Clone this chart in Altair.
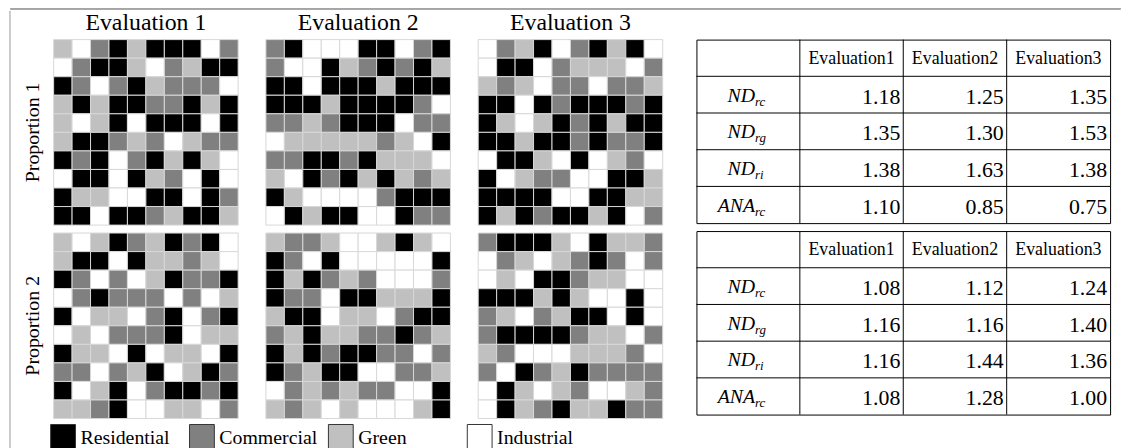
import altair as alt
import pandas as pd

FONT = "Liberation Serif"

# ---------------- data ----------------
categories = ["Residential", "Commercial", "Green", "Industrial"]
cat_colors = ["#000000", "#808080", "#c0c0c0", "#ffffff"]
code_names = {"R": "Residential", "C": "Commercial", "G": "Green", "I": "Industrial"}

proportions = ["Proportion 1", "Proportion 2"]
evaluations = ["Evaluation 1", "Evaluation 2", "Evaluation 3"]

grid_p1_e1 = ["GICRGRRRIC", "ICRRGICGRR", "RCICRGCCCI", "GRGRRCCRGR", "GIGRIRRRIR",
              "GRRCGCIGCC", "RCRICRGRGI", "IRRIRGCIRI", "RGGIIRRIRC", "RRIRRCGRRG"]
grid_p1_e2 = ["CRIIIRRICR", "CIIRGCRCRG", "RRIRRRGRRR", "RRRGRRRRCI", "CCGCRRRICC",
              "IGGGGGCGIR", "CCRRCRGGGI", "GIRCRGRGCG", "RGIIIICRRR", "IRGRRIIRCC"]
grid_p1_e3 = ["ICGRICRGRI", "IRRICGGGIC", "GCGICCICCG", "RRIRCRRRCR", "RGIGRCRGRR",
              "RRGRRCRCCR", "IRRGIRIGCI", "RIGCCIIRRG", "RRRRIIRRGG", "RGRCRRGRIC"]
grid_p2_e1 = ["GIGRCGRCRI", "GRRIRGGCGI", "RCICIGRCCR", "ICRCCCICIG", "RIGGICRICR",
              "IGICCCRIGG", "RGGIRIGGIR", "CCICGRIGRC", "RIGRICRRCR", "GGCRIIGGIC"]
grid_p2_e2 = ["GCCGIIGRGI", "RCIRIIIIIR", "RGRCGCIIIC", "RCCIRRGGGR", "GRRIGGICRR",
              "CGRGGCCRCG", "RGRCRRCCIC", "RCGRRIICCG", "ICGCGCCIIR", "GCGIGIIIGR"]
grid_p2_e3 = ["CRRRGIRGGC", "ICGIGCRCIC", "IGIRRCGGII", "RRRGRGIIRI", "CGICGRRIRI",
              "CRRRRCGGIC", "GCIIIGGGCI", "CIRCGRCCCC", "IRGIGCIIGC", "IRGCRGGRCC"]

table_cols = ["Evaluation1", "Evaluation2", "Evaluation3"]
metric_main = ["ND", "ND", "ND", "ANA"]
metric_sub = ["rc", "rg", "ri", "rc"]
p1_eval1 = [1.18, 1.35, 1.38, 1.10]
p1_eval2 = [1.25, 1.30, 1.63, 0.85]
p1_eval3 = [1.35, 1.53, 1.38, 0.75]
p2_eval1 = [1.08, 1.16, 1.16, 1.08]
p2_eval2 = [1.12, 1.16, 1.44, 1.28]
p2_eval3 = [1.24, 1.40, 1.36, 1.00]

# ---------------- grids ----------------
grids = {
    ("Proportion 1", "Evaluation 1"): grid_p1_e1,
    ("Proportion 1", "Evaluation 2"): grid_p1_e2,
    ("Proportion 1", "Evaluation 3"): grid_p1_e3,
    ("Proportion 2", "Evaluation 1"): grid_p2_e1,
    ("Proportion 2", "Evaluation 2"): grid_p2_e2,
    ("Proportion 2", "Evaluation 3"): grid_p2_e3,
}
cells = []
for (p, e), g in grids.items():
    for r, line in enumerate(g):
        for c, ch in enumerate(line):
            cells.append({"prop": p, "eval": e, "row": r, "col": c, "use": code_names[ch]})
cells_df = pd.DataFrame(cells)

fill_scale = alt.Scale(domain=categories, range=cat_colors)

heat = alt.Chart(cells_df).mark_rect(stroke="#d8d8d8", strokeWidth=1).encode(
    x=alt.X("col:O", axis=None, scale=alt.Scale(paddingInner=0, paddingOuter=0)),
    y=alt.Y("row:O", axis=None, scale=alt.Scale(paddingInner=0, paddingOuter=0)),
    fill=alt.Fill("use:N", scale=fill_scale, legend=None),
).properties(width=186, height=187)

grid = heat.facet(
    row=alt.Row("prop:N", sort=proportions,
                header=alt.Header(title=None, labelFont=FONT, labelFontSize=20,
                                  labelColor="black", labelPadding=10)),
    column=alt.Column("eval:N", sort=evaluations,
                      header=alt.Header(title=None, labelFont=FONT, labelFontSize=24,
                                        labelColor="black", labelPadding=4)),
    spacing={"row": 6, "column": 26},
)

# ---------------- legend ----------------
leg_df = pd.DataFrame({"use": categories})
leg_base = alt.Chart(leg_df).encode(
    x=alt.X("use:N", sort=categories, axis=None,
            scale=alt.Scale(type="point", padding=0))
)
leg_sq = leg_base.mark_square(size=625, xOffset=9.5, stroke="#333333", strokeWidth=1,
                              opacity=1, filled=True).encode(
    fill=alt.Fill("use:N", scale=fill_scale, legend=None)
)
leg_tx = leg_base.mark_text(align="left", dx=27, font=FONT, fontSize=20,
                            baseline="middle", color="black", dy=1).encode(text="use:N")
legend = (leg_sq + leg_tx).properties(width=420, height=25)

# ---------------- tables ----------------
row_keys = ["head", "m0", "m1", "m2", "m3"]
x_keys = ["label"] + table_cols
TW, TH = 417, 185
BW, BH = TW / 4, TH / 5


def make_table(vals):
    num_rows = []
    for ci, col in enumerate(table_cols):
        for mi in range(4):
            num_rows.append({"col": col, "row": f"m{mi}", "val": vals[ci][mi]})
    num_df = pd.DataFrame(num_rows)
    head_df = pd.DataFrame({"col": table_cols, "row": ["head"] * 3})
    lab_df = pd.DataFrame({"col": ["label"] * 4, "row": [f"m{i}" for i in range(4)],
                           "main": metric_main, "sub": metric_sub})
    hl_df = pd.DataFrame({"row": row_keys[1:]})

    xs = alt.Scale(domain=x_keys, paddingInner=0, paddingOuter=0)
    ys = alt.Scale(domain=row_keys, paddingInner=0, paddingOuter=0)
    X = lambda: alt.X("col:N", scale=xs, axis=None, sort=x_keys)
    Y = lambda: alt.Y("row:N", scale=ys, axis=None, sort=row_keys)

    vlines = alt.Chart(head_df).mark_rule(color="black", strokeWidth=1,
                                          xOffset=-BW / 2).encode(x=X())
    hlines = alt.Chart(hl_df).mark_rule(color="black", strokeWidth=1,
                                        yOffset=-BH / 2).encode(y=Y())
    head = alt.Chart(head_df).mark_text(font=FONT, fontSize=18, baseline="middle",
                                        color="black", dy=1).encode(
        x=X(), y=Y(), text="col:N")
    nums = alt.Chart(num_df).mark_text(font=FONT, fontSize=22, baseline="middle",
                                       align="right", dx=BW / 2 - 3, dy=2,
                                       color="black").encode(
        x=X(), y=Y(), text=alt.Text("val:Q", format=".2f"))
    lab_main = alt.Chart(lab_df).mark_text(font=FONT, fontSize=20, fontStyle="italic",
                                           baseline="middle", align="right", dx=7, dy=1,
                                           color="black").encode(
        x=X(), y=Y(), text="main:N")
    lab_sub = alt.Chart(lab_df).mark_text(font=FONT, fontSize=13, fontStyle="italic",
                                          baseline="middle", align="left", dx=7, dy=7,
                                          color="black").encode(
        x=X(), y=Y(), text="sub:N")
    return alt.layer(vlines, hlines, head, nums, lab_main, lab_sub).properties(
        width=TW, height=TH,
        view=alt.ViewBackground(stroke="black", strokeWidth=1),
    )


table1 = make_table([p1_eval1, p1_eval2, p1_eval3])
table2 = make_table([p2_eval1, p2_eval2, p2_eval3])

left = alt.vconcat(grid, legend, spacing=3)
right = alt.vconcat(table1, table2, spacing=6)
body = alt.hconcat(left, right, spacing=32)

FRAME = "#999999"
frame_df = pd.DataFrame({"v": [0]})
empty_df = pd.DataFrame({"v": pd.Series([], dtype=float)})
left_strip = alt.Chart(frame_df).mark_rule(color=FRAME, strokeWidth=1).encode(
    x=alt.value(0), y=alt.value(-29), y2=alt.value(430)).properties(width=1, height=430)
top_strip = alt.Chart(empty_df).mark_point(opacity=0).encode(
    x=alt.value(0)).properties(width=1119, height=1,
                               view=alt.ViewBackground(stroke=FRAME, strokeWidth=1))

framed = alt.hconcat(left_strip, body, spacing=11)
chart = alt.vconcat(top_strip, framed, spacing=0).properties(
    padding={"left": 1, "top": -3, "right": 0, "bottom": 0}
).configure(font=FONT).configure_view(stroke=None).configure_concat(spacing=0)

chart.save("out.html", embed_options={"renderer": "svg", "actions": False})
